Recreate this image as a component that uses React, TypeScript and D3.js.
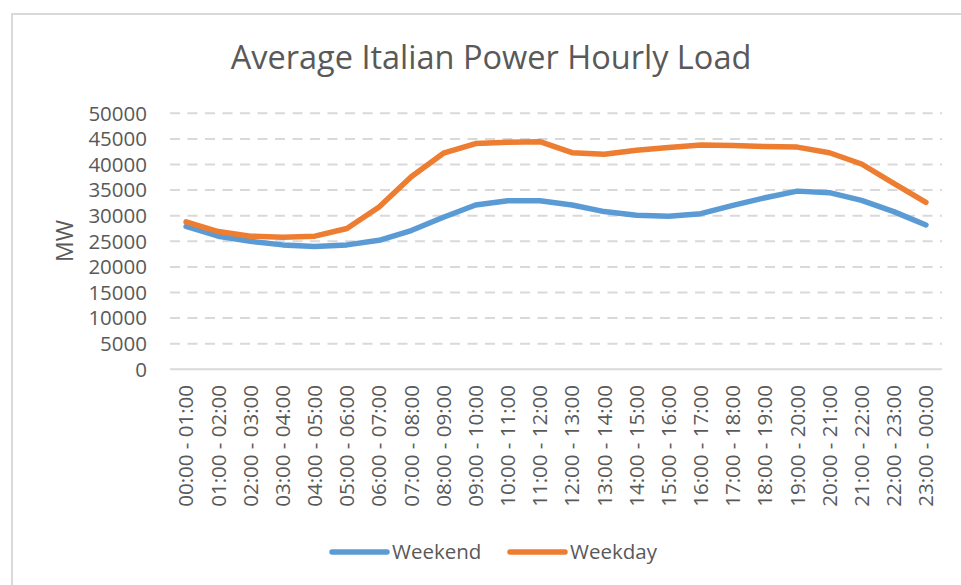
import React from "react";
import * as d3 from "d3";

const categories: string[] = [
  "00:00 - 01:00", "01:00 - 02:00", "02:00 - 03:00", "03:00 - 04:00",
  "04:00 - 05:00", "05:00 - 06:00", "06:00 - 07:00", "07:00 - 08:00",
  "08:00 - 09:00", "09:00 - 10:00", "10:00 - 11:00", "11:00 - 12:00",
  "12:00 - 13:00", "13:00 - 14:00", "14:00 - 15:00", "15:00 - 16:00",
  "16:00 - 17:00", "17:00 - 18:00", "18:00 - 19:00", "19:00 - 20:00",
  "20:00 - 21:00", "21:00 - 22:00", "22:00 - 23:00", "23:00 - 00:00",
];

const weekend: number[] = [
  27900, 26000, 25000, 24300, 24000, 24300, 25200, 27100,
  29700, 32100, 32900, 32900, 32100, 30800, 30100, 29900,
  30400, 32000, 33500, 34800, 34500, 33000, 30800, 28200,
];

const weekday: number[] = [
  28800, 26900, 26000, 25800, 26000, 27500, 31700, 37600,
  42200, 44100, 44350, 44450, 42300, 42000, 42800, 43300,
  43800, 43700, 43500, 43400, 42300, 40100, 36300, 32600,
];

const yTicks: number[] = [0, 5000, 10000, 15000, 20000, 25000, 30000, 35000, 40000, 45000, 50000];

const seriesNames = ["Weekend", "Weekday"];
const colors = ["#5B9BD5", "#ED7D31"];

const W = 961;
const H = 585;
const FONT = "'Open Sans', sans-serif";
const TEXT = "#595959";

export default function App() {
  const x = d3.scaleBand<string>().domain(categories).range([170, 942]).paddingInner(0).paddingOuter(0);
  const y = d3.scaleLinear().domain([0, 50000]).range([369.3, 113.3]);
  const cx = (c: string) => (x(c) as number) + x.bandwidth() / 2;

  const line = d3
    .line<number>()
    .x((_, i) => cx(categories[i]))
    .y((v) => y(v))
    .curve(d3.curveLinear);

  const series = [weekend, weekday];

  return (
    <svg
      width={W}
      height={H}
      style={{ position: "absolute", left: 0, top: 0, background: "#fff" }}
      fontFamily={FONT}
    >
      <rect x={0} y={0} width={W} height={H} fill="#fff" />
      {/* chart border */}
      <path d={`M12,${H + 5} L12,14 L${W + 5},14`} fill="none" stroke="#d9d9d9" strokeWidth={2} />

      {/* title */}
      <text x={491} y={69} textAnchor="middle" fontSize={32.5} fill={TEXT}>
        Average Italian Power Hourly Load
      </text>

      {/* gridlines */}
      {yTicks.filter((t) => t > 0).map((t) => (
        <line
          key={t}
          x1={170}
          x2={942}
          y1={y(t)}
          y2={y(t)}
          stroke="#d9d9d9"
          strokeWidth={2}
          strokeDasharray="10 7.5"
        />
      ))}
      {/* baseline */}
      <line x1={170} x2={942} y1={y(0)} y2={y(0)} stroke="#d9d9d9" strokeWidth={2} />

      {/* y tick labels */}
      {yTicks.map((t) => (
        <text key={t} x={147} y={y(t)} dy="0.36em" textAnchor="end" fontSize={20.5} fill={TEXT}>
          {t}
        </text>
      ))}

      {/* y axis title */}
      <text
        transform={`translate(65,241) rotate(-90)`}
        textAnchor="middle"
        dy="0.36em"
        fontSize={23}
        fill={TEXT}
      >
        MW
      </text>

      {/* x labels */}
      {categories.map((c) => (
        <text
          key={c}
          transform={`translate(${cx(c)},385) rotate(-90)`}
          textAnchor="end"
          dy="0.36em"
          fontSize={20.5}
          fill={TEXT}
        >
          {c}
        </text>
      ))}

      {/* lines */}
      {series.map((s, i) => (
        <path
          key={i}
          d={line(s) as string}
          fill="none"
          stroke={colors[i]}
          strokeWidth={5.5}
          strokeLinecap="round"
          strokeLinejoin="round"
        />
      ))}

      {/* legend */}
      {seriesNames.map((n, i) => {
        const lx = i === 0 ? 332 : 510;
        return (
          <g key={n}>
            <line x1={lx} x2={lx + 55} y1={552} y2={552} stroke={colors[i]} strokeWidth={5.5} strokeLinecap="round" />
            <text x={lx + 60} y={552} dy="0.36em" fontSize={20.5} fill={TEXT}>
              {n}
            </text>
          </g>
        );
      })}
    </svg>
  );
}
